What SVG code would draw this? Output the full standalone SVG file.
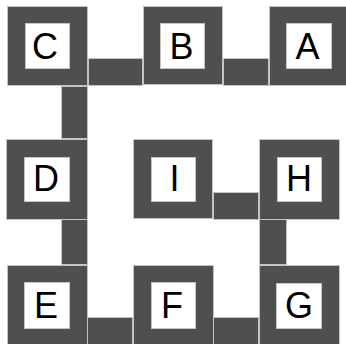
<svg xmlns="http://www.w3.org/2000/svg" width="346" height="344" viewBox="0 0 346 344">
<style>
.o{fill:#4f4f4f;stroke:#c4c4c4;stroke-width:1}
.i{fill:#fff;stroke:#c4c4c4;stroke-width:1}
.c{fill:#4f4f4f;stroke:#c4c4c4;stroke-width:1}
.t{font-family:"Liberation Sans",Arial,sans-serif;font-size:36px;fill:#000;text-anchor:middle;dominant-baseline:central}
</style>
<rect width="346" height="344" fill="#fff"/>
<g id="connectors">
<rect class="c" x="88.5" y="58.5" width="54" height="27"/>
<rect class="c" x="223.5" y="58.5" width="45" height="27"/>
<rect class="c" x="61.5" y="86.5" width="26" height="52"/>
<rect class="c" x="61.5" y="219.5" width="26" height="45"/>
<rect class="c" x="213.5" y="192.5" width="45" height="27"/>
<rect class="c" x="259.5" y="219.5" width="27" height="45"/>
<rect class="c" x="87.5" y="317.5" width="45" height="30"/>
<rect class="c" x="213.5" y="317.5" width="45" height="30"/>
</g>
<g id="C"><rect class="o" x="7.5" y="6.5" width="80" height="79"/><rect class="i" x="25.5" y="23.5" width="44" height="45"/><text class="t" x="45" y="46">C</text></g>
<g id="B"><rect class="o" x="143.5" y="6.5" width="79" height="78"/><rect class="i" x="160.5" y="23.5" width="44" height="45"/><text class="t" x="181.5" y="46">B</text></g>
<g id="A"><rect class="o" x="269.5" y="6.5" width="80" height="79"/><rect class="i" x="286.5" y="23.5" width="45" height="45"/><text class="t" x="307.5" y="46">A</text></g>
<g id="D"><rect class="o" x="6.5" y="139.5" width="81" height="80"/><rect class="i" x="24.5" y="157.5" width="45" height="44"/><text class="t" x="46" y="178.5">D</text></g>
<g id="I"><rect class="o" x="133.5" y="139.5" width="79" height="79"/><rect class="i" x="151.5" y="157.5" width="44" height="44"/><text class="t" x="174.5" y="178.5">I</text></g>
<g id="H"><rect class="o" x="259.5" y="139.5" width="80" height="80"/><rect class="i" x="277.5" y="157.5" width="44" height="44"/><text class="t" x="299" y="178.5">H</text></g>
<g id="E"><rect class="o" x="7.5" y="265.5" width="80" height="82"/><rect class="i" x="24.5" y="282.5" width="45" height="46"/><text class="t" x="46" y="305">E</text></g>
<g id="F"><rect class="o" x="133.5" y="265.5" width="80" height="82"/><rect class="i" x="151.5" y="282.5" width="44" height="46"/><text class="t" x="172" y="305">F</text></g>
<g id="G"><rect class="o" x="259.5" y="265.5" width="80" height="82"/><rect class="i" x="276.5" y="283.5" width="45" height="45"/><text class="t" x="299" y="305.5">G</text></g>
</svg>
